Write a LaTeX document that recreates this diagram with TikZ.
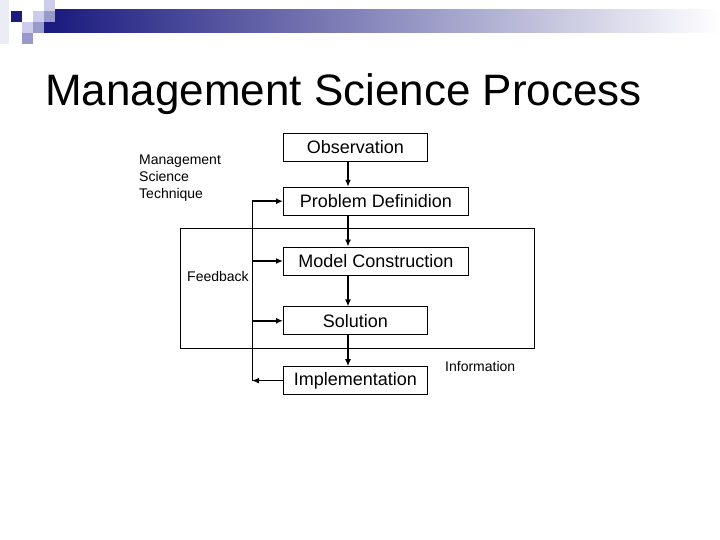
\documentclass[tikz,border=0pt]{standalone}
\usepackage{fontspec}
\setmainfont{Liberation Sans}
\usetikzlibrary{arrows.meta,positioning}
\definecolor{hdrnavy}{HTML}{1C1C80}
\definecolor{hdrgrey}{HTML}{BCBCC8}
\definecolor{hdrlight}{HTML}{CCCCEB}
\definecolor{hdrmid}{HTML}{9999CC}
\definecolor{hdrpale}{HTML}{ECECF7}

\begin{document}
\begin{tikzpicture}[x=1pt,y=-1pt,>={Latex[length=7pt,width=6pt]},
 box/.style={draw,line width=0.8pt,inner sep=0pt,minimum height=28pt,anchor=north west,font=\fontsize{18}{21}\selectfont},
 flow/.style={->,line width=1.6pt},
 thin/.style={line width=0.8pt},
 note/.style={font=\fontsize{14}{17}\selectfont,inner sep=0pt,align=left,anchor=west}]
\useasboundingbox (0,0) rectangle (720,540);
\shade[left color=hdrnavy,middle color=hdrgrey,right color=white] (55,10) rectangle (720,33);
\fill[hdrpale] (0,0) rectangle (9,44);
\fill[hdrnavy] (11,11) rectangle (22,22);
\fill[hdrlight] (33,11) rectangle (44,22);
\fill[hdrlight] (44,0) rectangle (55,11);
\fill[hdrmid] (44,11) rectangle (55,22);
\fill[hdrlight] (22,22) rectangle (33,33);
\fill[hdrmid] (33,22) rectangle (44,33);
\fill[hdrnavy] (44,22) rectangle (55,33);
\fill[hdrmid] (22,33) rectangle (33,44);
\node[font=\fontsize{44}{50}\selectfont,inner sep=0pt,anchor=base west] (title) at (45,106) {Management Science Process};
\node[box,minimum width=144pt] (obs) at (283,133) {Observation};
\node[box,minimum width=185pt,below=25pt of obs.south west,anchor=north west] (prob) {Problem Definidion};
\node[box,minimum width=185pt,below=31pt of prob.south west,anchor=north west] (model) {Model Construction};
\node[box,minimum width=144pt,below=31pt of model.south west,anchor=north west] (sol) {Solution};
\node[box,minimum width=144pt,below=31pt of sol.south west,anchor=north west] (impl) {Implementation};
\coordinate (spine) at (348,0);
\coordinate (fb) at (252,0);
\draw[thin] (180,228) rectangle (534,348);
\draw[flow] (obs.south -| spine) -- (prob.north -| spine);
\draw[flow] (prob.south -| spine) -- (model.north -| spine);
\draw[flow] (model.south -| spine) -- (sol.north -| spine);
\draw[flow] (sol.south -| spine) -- (impl.north -| spine);
\draw[thin] (fb |- prob.west) -- (fb |- impl.west);
\draw[flow] (fb |- prob.west) -- (prob.west);
\draw[flow] (fb |- model.west) -- (model.west);
\draw[flow] (fb |- sol.west) -- (sol.west);
\draw[flow] (impl.west) -- (fb |- impl.west);
\node[note] (technique) at (139,178) {Management\\Science\\Technique};
\node[note] (feedback) at (187,276) {Feedback};
\node[note] (info) at (445,366) {Information};
\end{tikzpicture}
\end{document}
